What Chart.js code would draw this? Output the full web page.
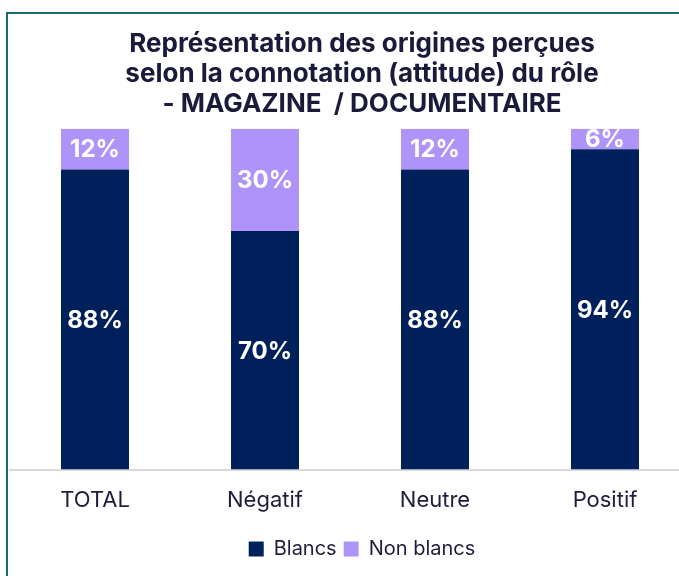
<!DOCTYPE html>
<html>
<head>
<meta charset="utf-8">
<script src="https://cdn.jsdelivr.net/npm/chart.js@4"></script>
<style>
  html, body { margin: 0; padding: 0; width: 679px; height: 576px; overflow: hidden; background: #fff; }
  #frame { position: absolute; left: 6px; top: 12px; width: 760px; height: 600px;
           border-left: 2px solid #1c6b6e; border-top: 2px solid #1c6b6e; }
  #wrap { position: absolute; left: 0px; top: 1px; width: 720px; height: 561px; }
</style>
</head>
<body>
<div id="frame"><div id="wrap"><canvas id="c"></canvas></div></div>
<script>
const categories = ["TOTAL", "Négatif", "Neutre", "Positif"];
const blancs = [88, 70, 88, 94];
const nonBlancs = [12, 30, 12, 6];
const seriesNames = ["Blancs", "Non blancs"];
const titleLines = ["Représentation des origines perçues", "selon la connotation (attitude) du rôle", "- MAGAZINE  / DOCUMENTAIRE"];

const labelPlugin = {
  id: 'segLabels',
  afterDatasetsDraw(chart) {
    const ctx = chart.ctx;
    ctx.save();
    ctx.fillStyle = '#ffffff';
    ctx.font = 'bold 24px Inter, "Open Sans", sans-serif';
    ctx.textAlign = 'center';
    ctx.textBaseline = 'middle';
    chart.data.datasets.forEach((ds, i) => {
      const meta = chart.getDatasetMeta(i);
      meta.data.forEach((el, j) => {
        const v = ds.data[j];
        ctx.fillText(v + '%', el.x, (el.y + el.base) / 2 + 1);
      });
    });
    ctx.restore();
  }
};

new Chart(document.getElementById('c'), {
  type: 'bar',
  data: {
    labels: categories,
    datasets: [
      { label: seriesNames[0], data: blancs, backgroundColor: '#00205c' },
      { label: seriesNames[1], data: nonBlancs, backgroundColor: '#ae94f9' }
    ]
  },
  options: {
    responsive: true,
    maintainAspectRatio: false,
    animation: false,
    layout: { padding: { left: 2, right: 14, top: 0, bottom: 7 } },
    datasets: { bar: { barPercentage: 0.8, categoryPercentage: 0.5 } },
    scales: {
      x: {
        stacked: true,
        grid: { display: false, drawTicks: false },
        border: { display: true, color: '#d9d9d9', width: 2 },
        ticks: { color: '#1e1e3c', font: { size: 22, family: 'Inter, "Open Sans", sans-serif' }, padding: 18 }
      },
      y: {
        stacked: true, min: 0, max: 100, position: 'right',
        display: true,
        grid: { display: false, drawTicks: false },
        border: { display: false },
        ticks: { display: false },
        afterFit: (s) => { s.width = 24; }
      }
    },
    plugins: {
      title: {
        display: true,
        text: titleLines,
        color: '#1a1a3a',
        font: { size: 26, weight: 'bold', family: 'Inter, "Open Sans", sans-serif', lineHeight: 1.15 },
        padding: { top: 14, bottom: 10 }
      },
      legend: {
        position: 'bottom',
        labels: {
          color: '#1e1e3c',
          font: { size: 20, family: 'Inter, "Open Sans", sans-serif' },
          boxWidth: 15, boxHeight: 15, padding: 7
        }
      },
      tooltip: { enabled: false }
    }
  },
  plugins: [labelPlugin]
});
</script>
</body>
</html>
